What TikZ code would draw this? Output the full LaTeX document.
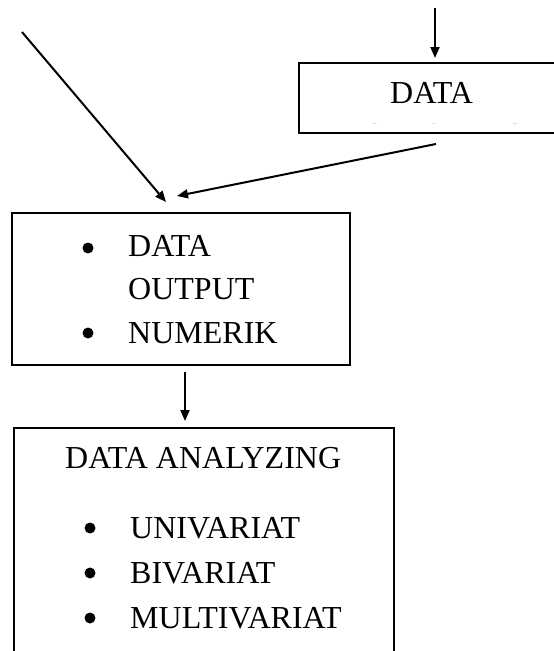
\documentclass[tikz,border=0pt]{standalone}
\usepackage{fontspec}
\setmainfont{Liberation Serif}
\usetikzlibrary{arrows.meta}
\begin{document}
\begin{tikzpicture}[x=1pt,y=-1pt,
  box/.style={draw,line width=2pt},
  flow/.style={line width=2pt,-{Triangle[length=11pt,width=9pt]}},
  txt/.style={font=\fontsize{32}{38}\selectfont,inner sep=0pt,anchor=base west},
  dot/.style={circle,fill,inner sep=0pt,minimum size=11pt}]
\useasboundingbox (0,0) rectangle (554,651);

% boxes
\draw[box] (299,63) rectangle (570,133);
\node[inner sep=0pt] (clean) at (434,98) {};
\draw[box] (12,213) rectangle (350,365);
\node[inner sep=0pt] (output) at (181,289) {};
\draw[box] (14,428) rectangle (394,670);
\node[inner sep=0pt] (analyze) at (204,540) {};

% cleaning box text, second line cut off by the frame
\node[txt] (t1) at (390,103) {DATA};
\begin{scope}
  \clip (300,64) rectangle (560,123.2);
  \node[txt] (t2) at (362,145.6) {CLEANING};
\end{scope}

% output box text
\node[dot] (b1) at (88,248) {};
\node[txt] (t3) at (128,256) {DATA};
\node[txt] (t4) at (128,299) {OUTPUT};
\node[dot] (b2) at (88,333) {};
\node[txt] (t5) at (128,343) {NUMERIK};

% analyzing box text
\node[txt] (t6) at (65,468) {DATA ANALYZING};
\node[dot] (b3) at (90,528) {};
\node[txt] (t7) at (130,538) {UNIVARIAT};
\node[dot] (b4) at (90,573) {};
\node[txt] (t8) at (130,583) {BIVARIAT};
\node[dot] (b5) at (90,618) {};
\node[txt] (t9) at (130,628) {MULTIVARIAT};

% connector end points
\coordinate (inTop) at (435,8);
\coordinate (inTopEnd) at (435,58);
\coordinate (inLeft) at (22,32);
\coordinate (inLeftEnd) at (166,202);
\coordinate (cleanOut) at (436,144);
\coordinate (cleanOutEnd) at (177,196);
\coordinate (outDown) at (185,372);
\coordinate (outDownEnd) at (185,421);

\draw[flow] (inTop) -- (inTopEnd);
\draw[flow] (inLeft) -- (inLeftEnd);
\draw[flow] (cleanOut) -- (cleanOutEnd);
\draw[flow] (outDown) -- (outDownEnd);
\end{tikzpicture}
\end{document}
